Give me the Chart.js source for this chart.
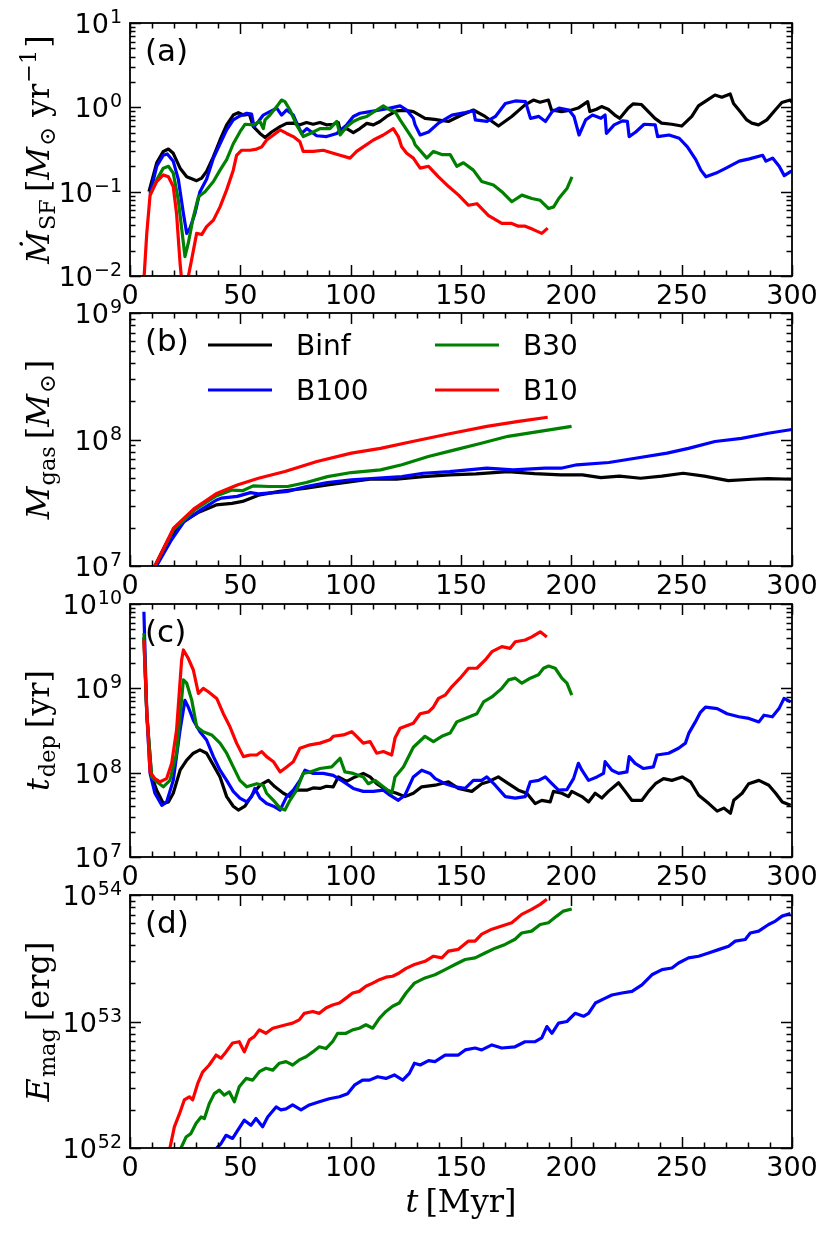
<!DOCTYPE html>
<html>
<head>
<meta charset="utf-8">
<script src="https://cdn.jsdelivr.net/npm/chart.js@4.4.1/dist/chart.umd.min.js"></script>
<style>
  html, body { margin: 0; padding: 0; background: #fff; }
  #wrap { position: relative; width: 830px; height: 1235px; }
  #wrap canvas { position: absolute; left: 0; top: 0; }
</style>
</head>
<body>
<div id="wrap">
  <canvas id="panel-a" width="830" height="1235"></canvas>
  <canvas id="panel-b" width="830" height="1235"></canvas>
  <canvas id="panel-c" width="830" height="1235"></canvas>
  <canvas id="panel-d" width="830" height="1235"></canvas>
</div>
<script>
/* =====================
   DATA  (t [Myr], value)
===================== */

const runNames  = ['Binf', 'B100', 'B30', 'B10'];
const runColors = ['#000000', '#0000ff', '#008000', '#ff0000'];

const xTicks = [0, 50, 100, 150, 200, 250, 300];

// (a) star formation rate [Msun/yr]
const sfrBinf = [[8.6,0.10],[12.1,0.22],[15.1,0.30],[17.4,0.32],[19.6,0.285],[22.7,0.19],[25.7,0.15],[30.2,0.135],[32.5,0.145],[34.7,0.174],[37.8,0.26],[40.8,0.41],[43.8,0.62],[46.8,0.81],[49.1,0.865],[51.4,0.81],[54.1,0.83],[55.9,0.59],[58.9,0.49],[61.2,0.44],[64.2,0.51],[68,0.59],[71,0.645],[74,0.65],[77,0.62],[80,0.66],[83,0.63],[86.1,0.66],[89,0.62],[92.1,0.63],[94.4,0.66],[95.2,0.54],[98.2,0.56],[101.2,0.50],[104.2,0.56],[107.3,0.645],[110.3,0.62],[113.3,0.68],[116.3,0.78],[120.8,0.91],[124.6,0.92],[128.4,0.89],[133.7,0.74],[138,0.72],[144.3,0.68],[150.3,0.81],[155.6,0.93],[160.9,0.78],[167,0.60],[173,0.78],[179,1.07],[182.8,1.22],[185.8,1.15],[189.6,1.22],[191,0.93],[195.6,0.89],[200.1,0.93],[203.1,0.98],[207.4,1.17],[208.4,0.89],[211.4,0.95],[213.7,1.02],[216.7,0.95],[219.7,0.81],[222,0.74],[225.8,0.98],[228.1,1.10],[231.8,1.08],[234.9,0.89],[237.9,0.74],[240.9,0.65],[245.5,0.63],[250,0.60],[254.6,0.78],[257.6,1.04],[262.1,1.24],[265.1,1.40],[268.2,1.32],[272,1.44],[273.5,1.11],[276.5,0.89],[279.5,0.71],[281.8,0.65],[284.8,0.62],[288.6,0.71],[292.4,0.93],[295.4,1.14],[299.2,1.22],[300,1.15]];
const sfrB100 = [[9.1,0.095],[12.1,0.20],[15.1,0.27],[16.9,0.28],[19.6,0.23],[21.9,0.14],[24.2,0.055],[25.7,0.032],[27.2,0.037],[29.5,0.056],[31.7,0.10],[34.7,0.14],[37.8,0.25],[40.8,0.37],[43.8,0.54],[46.8,0.71],[49.8,0.79],[52.9,0.85],[55.1,0.83],[56.2,0.59],[58.2,0.68],[60.4,0.81],[63.4,0.89],[66.5,0.98],[68.7,0.81],[71,0.93],[74,0.81],[76.3,0.59],[77.8,0.49],[80.1,0.56],[84.6,0.46],[89.1,0.45],[93.7,0.49],[98.2,0.62],[101.2,0.78],[104.2,0.85],[108.8,0.89],[113.3,0.93],[117.8,0.98],[122.4,1.04],[125.4,0.93],[128.4,0.74],[129.2,0.62],[131.5,0.47],[135.3,0.51],[139.8,0.65],[145.9,0.81],[151.9,0.865],[155.7,0.91],[156.5,0.71],[161.8,0.68],[165.6,0.78],[170.1,1.11],[174.6,1.19],[179.2,1.17],[181.5,0.74],[185.3,0.78],[188.3,0.68],[191.3,0.89],[194.4,0.98],[198.9,0.93],[201.2,0.78],[203.5,0.47],[206.5,0.71],[209.6,0.81],[213.4,0.74],[215.3,0.81],[215.9,0.49],[219.4,0.62],[223.2,0.69],[225.4,0.68],[226.2,0.45],[229.2,0.51],[233,0.63],[238,0.62],[239.1,0.45],[244.3,0.47],[248.9,0.43],[252.6,0.34],[256.4,0.24],[258.7,0.18],[261,0.15],[265.6,0.166],[270.1,0.19],[276.1,0.23],[280.7,0.245],[286.7,0.27],[288.2,0.23],[291.2,0.25],[294.2,0.20],[296.5,0.155],[299.5,0.174],[300,0.17]];
const sfrB30 = [[9.1,0.091],[12.1,0.138],[15.1,0.19],[17.4,0.20],[19.6,0.166],[21.9,0.079],[24.2,0.0245],[24.9,0.017],[26.4,0.0245],[28.7,0.05],[31,0.087],[34,0.10],[37.8,0.132],[40.8,0.18],[43.8,0.24],[46.8,0.37],[49.8,0.51],[52.1,0.63],[55.9,0.62],[58.9,0.68],[60.4,0.56],[61.2,0.71],[63.4,0.81],[66.5,1.02],[68.7,1.22],[70.2,1.17],[72.5,0.93],[75.5,0.62],[78.5,0.45],[81.6,0.49],[86.1,0.56],[90.6,0.56],[93.7,0.68],[95.2,0.47],[98.2,0.59],[101.2,0.68],[104.2,0.74],[107.3,0.78],[111.8,0.93],[114.8,1.04],[117.8,0.93],[120.1,0.89],[122.4,0.71],[125.4,0.54],[128.4,0.41],[129.2,0.36],[134.5,0.25],[137.5,0.30],[141.3,0.275],[145.1,0.275],[148.1,0.20],[151.1,0.22],[155.6,0.18],[159.4,0.132],[164.7,0.12],[168.5,0.10],[173,0.076],[177.6,0.091],[182.1,0.083],[185.9,0.079],[189.7,0.063],[192,0.066],[194.3,0.083],[198.1,0.11],[200.3,0.15]];
const sfrB10 = [[6.3,0.009],[7.6,0.032],[9.1,0.091],[12.1,0.132],[15.1,0.158],[17.4,0.15],[19.6,0.115],[21.1,0.055],[22.7,0.014],[23.4,0.009],[24.5,0.006],[25.5,0.007],[26.4,0.0098],[27.9,0.0155],[30.2,0.032],[32.5,0.031],[34.7,0.0385],[37.8,0.046],[40.8,0.066],[43.8,0.105],[46.8,0.18],[48.3,0.27],[50.6,0.31],[54.4,0.31],[57.4,0.32],[59.7,0.34],[61.9,0.41],[65,0.47],[68,0.54],[71,0.49],[74,0.45],[77,0.39],[78.5,0.30],[83.1,0.30],[87.6,0.31],[92.1,0.285],[95.2,0.27],[99.7,0.25],[102.7,0.30],[105.7,0.34],[110.3,0.41],[114.8,0.47],[119.3,0.56],[121.6,0.45],[123.1,0.34],[125.4,0.285],[128.4,0.25],[131.5,0.19],[135.3,0.20],[139.8,0.15],[144.4,0.115],[148.9,0.091],[153.4,0.069],[157.2,0.072],[162.5,0.052],[168.5,0.042],[173,0.042],[176,0.039],[179.1,0.039],[182.8,0.0355],[186.6,0.032],[189.3,0.037]];

// (b) gas mass [Msun]
const gasBinf = [[11.3,1.0e7],[17.3,1.61e7],[23.3,2.19e7],[30.6,2.63e7],[39,3.04e7],[46.2,3.13e7],[51,3.24e7],[58.2,3.63e7],[67.8,3.89e7],[79.9,4.12e7],[89.5,4.37e7],[100.3,4.65e7],[108.7,4.85e7],[120.8,4.85e7],[132.8,5.09e7],[144.8,5.25e7],[156.8,5.35e7],[171.3,5.58e7],[183.3,5.37e7],[195.3,5.25e7],[205,5.25e7],[213.4,5.0e7],[221.8,5.13e7],[231.4,4.94e7],[241,5.13e7],[250.7,5.41e7],[260.3,5.13e7],[271.1,4.73e7],[281.9,4.85e7],[289.2,4.9e7],[300,4.85e7]];
const gasB100 = [[12,1.0e7],[18.5,1.58e7],[24.5,2.24e7],[31.8,2.75e7],[39,3.31e7],[41.4,3.44e7],[48.6,3.55e7],[54.6,3.8e7],[58.2,3.72e7],[65.4,3.8e7],[71.4,3.89e7],[79.9,4.25e7],[89.5,4.57e7],[100.3,4.79e7],[111.1,4.94e7],[123.2,5.09e7],[132.8,5.41e7],[144.8,5.58e7],[161.7,5.93e7],[173.7,5.75e7],[188.1,5.93e7],[195.3,5.93e7],[202.5,6.31e7],[217,6.58e7],[229,7.11e7],[243.4,7.8e7],[253.1,8.51e7],[265.1,9.64e7],[277.1,1.02e8],[289.2,1.12e8],[300,1.2e8]];
const gasB30 = [[11.3,1.0e7],[19.7,1.93e7],[29.3,2.77e7],[39,3.58e7],[46.2,3.98e7],[51,3.94e7],[55.8,4.3e7],[63,4.25e7],[71.4,4.25e7],[79.9,4.57e7],[89.5,5.09e7],[100.3,5.48e7],[113.5,5.75e7],[123.2,6.31e7],[135.2,7.33e7],[147.2,8.28e7],[159.2,9.35e7],[171.3,1.06e8],[185.7,1.16e8],[200.1,1.27e8]];
const gasB10 = [[11.3,1.0e7],[19.7,1.99e7],[29.3,2.86e7],[39,3.72e7],[48.6,4.37e7],[58.2,4.94e7],[70.2,5.58e7],[84.7,6.7e7],[100.3,7.8e7],[113.5,8.51e7],[128,9.64e7],[144.8,1.11e8],[161.7,1.27e8],[176.1,1.39e8],[189.3,1.5e8]];

// (c) depletion time [yr]
const tdepBinf = [[6.3,4.0e9],[7.6,5.0e8],[9.8,8.9e7],[12.1,6.2e7],[15.1,4.3e7],[17.4,4.5e7],[19.6,5.7e7],[22.7,1.07e8],[25.7,1.41e8],[28.7,1.7e8],[31.7,1.86e8],[34.7,1.7e8],[37.8,1.23e8],[40.8,8.9e7],[43.8,5.2e7],[46.8,4.0e7],[49.1,3.6e7],[52.1,4.0e7],[55.9,5.7e7],[58.9,7.1e7],[62.7,8.1e7],[65.7,6.8e7],[69.5,5.7e7],[72.5,5.2e7],[75.5,6.2e7],[80.1,6.2e7],[83,6.6e7],[86.1,6.5e7],[89,6.9e7],[92.1,6.8e7],[94.4,8.9e7],[98.2,7.9e7],[102,8.9e7],[105.7,9.8e7],[108.8,8.9e7],[111.8,7.4e7],[116.3,6.2e7],[120.8,5.7e7],[124.6,5.2e7],[128.4,5.7e7],[132.2,6.8e7],[138.3,7.1e7],[144.3,7.8e7],[148.8,6.5e7],[154.9,6.0e7],[159.4,7.4e7],[162.4,7.8e7],[166.9,8.9e7],[171.5,7.4e7],[176,6.2e7],[179.8,5.7e7],[183.6,4.3e7],[186.6,4.7e7],[190.4,4.5e7],[191.9,6.0e7],[195.7,5.7e7],[198.7,5.2e7],[200.2,6.0e7],[204.8,5.2e7],[207.8,4.5e7],[210.8,5.7e7],[213.8,5.0e7],[216.8,6.0e7],[221.4,7.6e7],[224.4,6.0e7],[227.4,4.7e7],[232,4.7e7],[235,6.0e7],[238.1,7.4e7],[241.8,8.5e7],[245.6,8.1e7],[250.2,8.9e7],[254,7.8e7],[257.7,5.4e7],[262.3,4.3e7],[266.1,3.5e7],[269.1,3.8e7],[272.1,3.3e7],[273.6,4.7e7],[277.4,5.7e7],[280.4,7.4e7],[285,8.1e7],[289.5,7.1e7],[292.6,5.7e7],[295.6,4.5e7],[299.4,4.1e7]];
const tdepB100 = [[6.3,8.1e9],[7.6,5.0e8],[9.1,9.8e7],[11.3,5.7e7],[14.4,4.1e7],[16.6,4.5e7],[19.6,8.1e7],[22.7,3.2e8],[24.9,7.2e8],[26.4,6.0e8],[28.7,4.2e8],[31.7,3.06e8],[34.7,2.44e8],[37.8,1.55e8],[40.8,1.07e8],[43.8,8.1e7],[46.8,6.0e7],[49.8,5.0e7],[52.9,4.5e7],[55.1,5.2e7],[56.6,6.5e7],[58.9,5.0e7],[61.9,4.3e7],[65,4.0e7],[68,3.6e7],[71,5.2e7],[74,6.2e7],[77,8.1e7],[79.3,1.07e8],[83.1,9.8e7],[87.6,9.8e7],[92.1,9.3e7],[96.7,7.8e7],[101.2,6.5e7],[105.7,6.0e7],[110.3,6.0e7],[114.8,6.2e7],[117.8,5.4e7],[121.6,4.7e7],[124.6,5.4e7],[128.4,8.9e7],[132.2,1.07e8],[136,9.8e7],[138.3,8.5e7],[142.8,7.4e7],[147.3,6.8e7],[151.9,6.5e7],[155.6,8.1e7],[159.4,8.1e7],[161.7,8.9e7],[165.5,7.1e7],[170.1,5.2e7],[174.6,5.0e7],[179.1,5.2e7],[181.4,7.8e7],[185.2,8.1e7],[188.2,8.9e7],[191.2,7.4e7],[194.2,6.2e7],[198,6.3e7],[201,8.5e7],[203.2,1.29e8],[204.8,1.07e8],[207.8,8.1e7],[211.6,8.9e7],[214.6,9.8e7],[215.3,1.35e8],[218.4,1.07e8],[221.4,9.8e7],[225.2,1.02e8],[226.2,1.55e8],[228.9,1.29e8],[232.7,1.12e8],[237.2,1.17e8],[238.8,1.62e8],[244.1,1.7e8],[248.6,1.95e8],[251.7,2.24e8],[253.2,2.92e8],[256.2,4.0e8],[258.5,5.2e8],[260.8,6.0e8],[266.1,5.75e8],[270.6,5.0e8],[275.9,4.6e8],[280.5,4.4e8],[285,4.0e8],[287.3,4.8e8],[291.1,4.6e8],[294.1,5.75e8],[296.4,7.6e8],[299.4,6.9e8]];
const tdepB30 = [[6.3,4.5e9],[7.6,5.0e8],[9.8,8.9e7],[12.1,7.8e7],[15.1,6.8e7],[18.1,8.1e7],[21.1,1.7e8],[24.2,1.26e9],[25.7,1.15e9],[28,7.2e8],[30.2,3.5e8],[33.2,3.06e8],[37,2.8e8],[40.8,2.24e8],[43.8,1.7e8],[46.8,1.17e8],[49.8,8.1e7],[52.9,6.8e7],[57.4,7.4e7],[60.4,7.1e7],[61.9,5.7e7],[65,4.7e7],[68,3.8e7],[70.2,3.6e7],[72.5,4.7e7],[75.5,6.2e7],[78.5,9.8e7],[81.6,1.02e8],[86.1,1.12e8],[91.4,1.17e8],[95.2,1.48e8],[97.4,1.02e8],[101.2,9.8e7],[105.7,8.9e7],[108,7.4e7],[111,8.1e7],[114.8,6.8e7],[118.6,5.7e7],[120.1,8.9e7],[123.9,1.17e8],[128.4,2.0e8],[133.7,2.7e8],[137.5,2.34e8],[141.3,2.7e8],[145.1,2.95e8],[148.1,4.0e8],[151.9,4.4e8],[157.2,5.0e8],[160.2,6.9e8],[164,7.9e8],[168.5,1.0e9],[171.6,1.26e9],[174.6,1.32e9],[177.6,1.15e9],[181.4,1.32e9],[185.1,1.45e9],[187.4,1.73e9],[189.7,1.84e9],[192.7,1.73e9],[195.7,1.32e9],[198,1.15e9],[200.2,8.3e8]];
const tdepB10 = [[6.3,3.7e9],[7.6,5.6e8],[9.1,1.02e8],[11.3,8.5e7],[13.6,7.8e7],[16.6,8.5e7],[18.9,1.29e8],[21.1,3.2e8],[23.4,2.17e9],[24.2,2.85e9],[26.4,2.27e9],[28.7,1.65e9],[31,8.7e8],[33.2,1.0e9],[35.5,9.1e8],[39.3,7.6e8],[42.3,5.0e8],[45.3,3.5e8],[48.3,2.24e8],[51.4,1.55e8],[54.4,1.62e8],[57.4,1.62e8],[59.7,1.78e8],[61.9,1.55e8],[65,1.35e8],[68,1.02e8],[71,1.17e8],[74,1.35e8],[77,1.95e8],[81.6,2.14e8],[86.1,2.24e8],[90.6,2.45e8],[92.1,2.7e8],[96.7,2.8e8],[100.5,3.06e8],[102.7,2.7e8],[105.7,2.24e8],[108.8,2.34e8],[111.8,1.7e8],[114.8,1.78e8],[118.6,1.62e8],[120.1,2.57e8],[122.4,3.36e8],[128.4,3.85e8],[131.5,5.0e8],[135.3,5.25e8],[137.5,6.0e8],[139.8,7.6e8],[142.8,8.3e8],[145.9,1.05e9],[149.6,1.32e9],[153.4,1.73e9],[157.2,1.73e9],[161,2.17e9],[164,2.72e9],[168.5,3.12e9],[172.3,2.98e9],[174.6,3.57e9],[179.1,3.74e9],[182.1,4.07e9],[185.9,4.68e9],[188.9,4.07e9]];

// (d) magnetic energy [erg]  (no Binf curve)
const emagB100 = [[39.3,1.0e52],[41.2,1.08e52],[43.5,1.26e52],[46.5,1.19e52],[48.8,1.38e52],[51.8,1.66e52],[54.8,1.51e52],[57.1,1.71e52],[60.1,1.47e52],[62.4,1.76e52],[66.2,2.11e52],[68.4,2.0e52],[70.7,2.04e52],[73.7,2.19e52],[77.5,2.0e52],[81.3,2.19e52],[85.8,2.32e52],[90.3,2.45e52],[94.9,2.54e52],[98.6,2.69e52],[101.7,3.14e52],[105.4,3.44e52],[108.5,3.44e52],[112.2,3.66e52],[116,3.55e52],[119.8,3.78e52],[123.6,3.44e52],[126.6,3.89e52],[128.9,4.68e52],[131.5,4.53e52],[135.3,4.9e52],[138.2,4.82e52],[142.8,5.43e52],[148.8,5.43e52],[151.9,5.96e52],[156.4,6.17e52],[159.4,5.96e52],[164,6.53e52],[168.5,6.17e52],[174.5,6.31e52],[179,6.92e52],[183.6,6.92e52],[186.6,7.41e52],[188.9,9.12e52],[191.2,8.07e52],[194.2,9.7e52],[198,1.0e53],[201.7,1.16e53],[205.5,1.1e53],[207.8,1.16e53],[210.9,1.4e53],[215.4,1.53e53],[218.4,1.62e53],[222.9,1.68e53],[227.5,1.73e53],[232,1.95e53],[236.5,2.34e53],[241.1,2.57e53],[245.6,2.65e53],[248.6,2.9e53],[253.1,3.18e53],[257.7,3.28e53],[262.2,3.48e53],[266.7,3.7e53],[271.3,3.94e53],[274.3,4.32e53],[278.8,4.45e53],[281.1,5.01e53],[284.9,5.18e53],[289.4,5.85e53],[292.5,6.22e53],[295.5,6.81e53],[299.3,7.14e53]];
const emagB30 = [[23.1,1.0e52],[25.4,1.22e52],[27.6,1.3e52],[29.9,1.56e52],[32.2,1.76e52],[33.7,1.71e52],[35.9,2.24e52],[38.2,2.69e52],[40.5,2.87e52],[42.7,2.62e52],[45,2.78e52],[47.3,2.32e52],[49.5,3.05e52],[52.6,3.55e52],[55.6,3.44e52],[58.6,4.01e52],[61.6,4.27e52],[64.7,4.13e52],[67.7,4.68e52],[70.7,4.82e52],[73.7,4.53e52],[76.7,4.97e52],[79.8,5.27e52],[82.8,5.75e52],[85.8,6.31e52],[88.8,6.11e52],[91.8,6.92e52],[94.1,8.07e52],[97.9,8.07e52],[100.9,8.59e52],[103.9,8.85e52],[106.9,9.42e52],[110,8.85e52],[113,1.06e53],[116,1.2e53],[119,1.32e53],[122,1.4e53],[125.1,1.68e53],[128.9,2.01e53],[133.7,2.21e53],[138.2,2.34e53],[142.8,2.57e53],[147.3,2.82e53],[151.9,3.09e53],[156.4,3.18e53],[160.9,3.48e53],[165.5,3.8e53],[170,4.07e53],[174.5,4.47e53],[177.5,5.01e53],[182,5.18e53],[185.9,5.85e53],[189.6,6.03e53],[193.4,6.81e53],[196.4,7.46e53],[200.2,7.76e53]];
const emagB10 = [[18.1,1.0e52],[20.1,1.47e52],[22.4,1.86e52],[24.6,2.4e52],[26.9,2.54e52],[28.4,2.4e52],[30.7,3.24e52],[32.9,3.98e52],[35.9,4.53e52],[39,5.43e52],[41.2,5.13e52],[43.5,5.75e52],[46.5,6.76e52],[49.5,6.92e52],[51.8,5.75e52],[54.1,7.16e52],[56.3,7.59e52],[58.6,8.59e52],[61.6,8.07e52],[64.7,8.85e52],[67.7,9.12e52],[70.7,9.42e52],[73.7,9.7e52],[76.7,1.03e53],[79,1.16e53],[82.8,1.2e53],[85.8,1.16e53],[88.8,1.28e53],[91.8,1.35e53],[94.9,1.4e53],[97.9,1.53e53],[100.9,1.68e53],[103.9,1.73e53],[106.9,1.9e53],[110,2.01e53],[113,2.14e53],[116,2.24e53],[119,2.28e53],[122,2.42e53],[125.1,2.63e53],[128.9,2.82e53],[133.7,2.99e53],[137.5,3.28e53],[141.3,3.18e53],[144.3,3.6e53],[148.8,3.72e53],[153.4,4.32e53],[156.4,4.32e53],[159.4,4.9e53],[164,5.37e53],[168.5,5.68e53],[173,6.03e53],[177.5,7.03e53],[182,7.69e53],[185.9,8.43e53],[188.9,9.25e53]];


/* =====================
   AXES PLUGIN (matplotlib look)
===================== */

const SANS = '"DejaVu Sans"';
const SERIF = '"DejaVu Serif"';

function drawRuns(ctx, runs, cx, cy, rotate, base) {
  let total = 0;
  const items = runs.map(r => {
    const small = r.sub || r.sup;
    const size = small ? base * 0.7 : base;
    const font = (r.it ? 'italic ' : '') + size + 'px ' + SERIF;
    ctx.font = font;
    const w = ctx.measureText(r.t).width;
    total += w + (r.gap || 0);
    return { t: r.t, font, w, gap: r.gap || 0, dy: r.sub ? base * 0.2 : (r.sup ? -base * 0.42 : 0) };
  });
  ctx.save();
  ctx.translate(cx, cy);
  if (rotate) ctx.rotate(-Math.PI / 2);
  ctx.textAlign = 'left';
  ctx.textBaseline = 'alphabetic';
  let x = -total / 2;
  items.forEach(it => {
    x += it.gap;
    ctx.font = it.font;
    ctx.fillText(it.t, x, it.dy);
    x += it.w;
  });
  ctx.restore();
}

const mplAxes = {
  id: 'mplAxes',
  afterDraw(chart, args, opts) {
    const ctx = chart.ctx;
    const a = chart.chartArea;
    const xs = chart.scales.x;
    const ys = chart.scales.y;
    ctx.save();
    ctx.strokeStyle = '#000';
    ctx.fillStyle = '#000';

    // ticks, pointing inward on all four sides
    ctx.lineWidth = 1.5;
    ctx.beginPath();
    for (let t = 0; t <= 300; t += 10) {
      const px = Math.round(xs.getPixelForValue(t)) + 0.5;
      const len = t % 50 === 0 ? 11 : 5.5;
      ctx.moveTo(px, a.bottom); ctx.lineTo(px, a.bottom - len);
      ctx.moveTo(px, a.top); ctx.lineTo(px, a.top + len);
    }
    const lastDec = opts.decades[opts.decades.length - 1];
    for (let d = opts.decades[0]; d <= lastDec; d++) {
      for (let m = 1; m <= 9; m++) {
        if (m > 1 && d === lastDec) break;
        const py = Math.round(ys.getPixelForValue(m * Math.pow(10, d))) + 0.5;
        const len = m === 1 ? 11 : 5.5;
        ctx.moveTo(a.left, py); ctx.lineTo(a.left + len, py);
        ctx.moveTo(a.right, py); ctx.lineTo(a.right - len, py);
      }
    }
    ctx.stroke();

    // frame
    ctx.lineWidth = 1.8;
    ctx.strokeRect(a.left, a.top, a.right - a.left, a.bottom - a.top);

    // x tick labels
    ctx.font = '27px ' + SANS;
    ctx.textAlign = 'center';
    ctx.textBaseline = 'alphabetic';
    xTicks.forEach(t => ctx.fillText(String(t), xs.getPixelForValue(t), a.bottom + 28));

    // y tick labels 10^n
    opts.decades.forEach(d => {
      const py = ys.getPixelForValue(Math.pow(10, d));
      const exp = String(d).replace('-', '\u2212');
      ctx.textAlign = 'right';
      ctx.font = '19px ' + SANS;
      const ew = ctx.measureText(exp).width;
      const right = a.left - 8;
      ctx.fillText(exp, right, py);
      ctx.font = '27px ' + SANS;
      ctx.fillText('10', right - ew - 1, py + 10);
    });

    // panel label
    ctx.textAlign = 'left';
    ctx.font = '31px ' + SANS;
    ctx.fillText(opts.label, a.left + 15, a.top + 38);

    // y title
    drawRuns(ctx, opts.yTitle, 49, (a.top + a.bottom) / 2, true, 32);

    // x title (bottom panel only)
    if (opts.xTitle) {
      drawRuns(ctx, opts.xTitle, (a.left + a.right) / 2, 1212, false, 32);
    }

    // legend: 2 columns, filled column by column
    if (opts.legend) {
      ctx.font = '28px ' + SANS;
      ctx.textAlign = 'left';
      chart.data.datasets.forEach((ds, i) => {
        const col = Math.floor(i / 2), row = i % 2;
        const x0 = a.left + 78 + col * 227;
        const y0 = a.top + 32 + row * 45;
        ctx.strokeStyle = ds.borderColor;
        ctx.lineWidth = 3.2;
        ctx.beginPath();
        ctx.moveTo(x0, y0); ctx.lineTo(x0 + 64, y0);
        ctx.stroke();
        ctx.fillStyle = '#000';
        ctx.fillText(ds.label, x0 + 88, y0 + 10);
      });
    }
    ctx.restore();
  }
};


/* =====================
   CREATE CHARTS
===================== */

function makeSeries(idx, points) {
  return {
    label: runNames[idx],
    data: points,
    borderColor: runColors[idx],
    backgroundColor: runColors[idx],
    borderWidth: 3.2,
    borderJoinStyle: 'round',
    pointRadius: 0,
    fill: false,
    tension: 0,
    order: 4 - idx
  };
}

function makePanel(id, datasets, yMin, yMax, top, bottom, axesOpts) {
  return new Chart(document.getElementById(id), {
    type: 'line',
    data: { datasets },
    options: {
      responsive: false,
      animation: false,
      devicePixelRatio: 1,
      events: [],
      layout: { padding: { left: 130, right: 830 - 792, top: top, bottom: 1235 - bottom } },
      scales: {
        x: { type: 'linear', min: 0, max: 300, display: false },
        y: { type: 'logarithmic', min: yMin, max: yMax, display: false }
      },
      plugins: {
        legend: { display: false },
        tooltip: { enabled: false },
        mplAxes: axesOpts
      }
    },
    plugins: [mplAxes]
  });
}

const chartA = makePanel('panel-a',
  [makeSeries(0, sfrBinf), makeSeries(1, sfrB100), makeSeries(2, sfrB30), makeSeries(3, sfrB10)],
  1e-2, 1e1, 23, 276, {
    label: '(a)', decades: [-2, -1, 0, 1],
    yTitle: [{ t: '\u1E40', it: true }, { t: 'SF', sub: true, gap: 1 }, { t: '[', gap: 7 }, { t: 'M', it: true },
             { t: '\u2299', sub: true, gap: 1 }, { t: 'yr', gap: 10 }, { t: '\u22121', sup: true, gap: 1 }, { t: ']', gap: 2 }]
  });

const chartB = makePanel('panel-b',
  [makeSeries(0, gasBinf), makeSeries(1, gasB100), makeSeries(2, gasB30), makeSeries(3, gasB10)],
  1e7, 1e9, 313, 566, {
    label: '(b)', decades: [7, 8, 9], legend: true,
    yTitle: [{ t: 'M', it: true }, { t: 'gas', sub: true, gap: 1 }, { t: '[', gap: 7 }, { t: 'M', it: true },
             { t: '\u2299', sub: true, gap: 1 }, { t: ']', gap: 2 }]
  });

const chartC = makePanel('panel-c',
  [makeSeries(0, tdepBinf), makeSeries(1, tdepB100), makeSeries(2, tdepB30), makeSeries(3, tdepB10)],
  1e7, 1e10, 604, 857, {
    label: '(c)', decades: [7, 8, 9, 10],
    yTitle: [{ t: 't', it: true }, { t: 'dep', sub: true, gap: 1 }, { t: '[', gap: 7 }, { t: 'yr' }, { t: ']' }]
  });

const chartD = makePanel('panel-d',
  [makeSeries(1, emagB100), makeSeries(2, emagB30), makeSeries(3, emagB10)],
  1e52, 1e54, 895, 1148, {
    label: '(d)', decades: [52, 53, 54],
    yTitle: [{ t: 'E', it: true }, { t: 'mag', sub: true, gap: 1 }, { t: '[', gap: 7 }, { t: 'erg' }, { t: ']' }],
    xTitle: [{ t: 't', it: true }, { t: '[', gap: 7 }, { t: 'Myr' }, { t: ']' }]
  });
</script>
</body>
</html>
